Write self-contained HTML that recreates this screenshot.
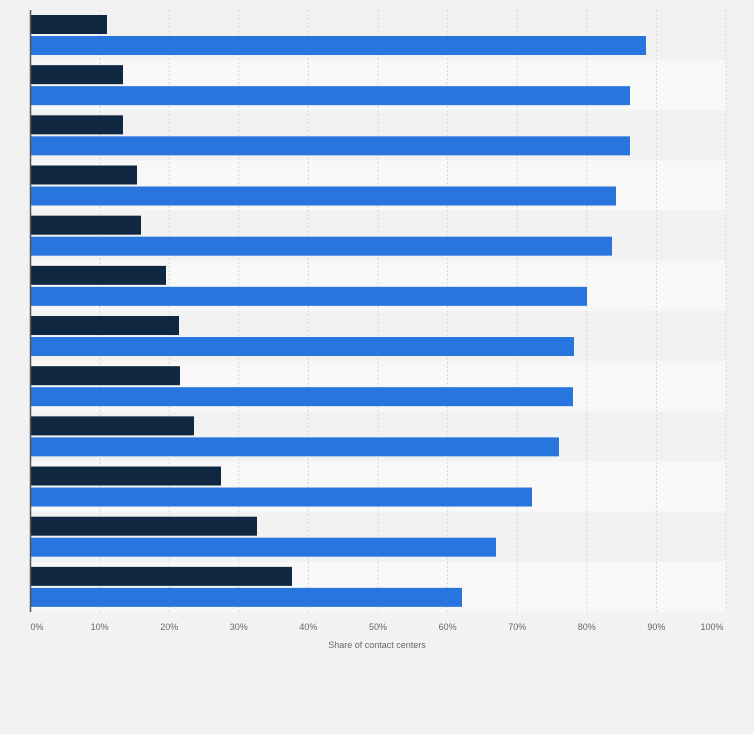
<!DOCTYPE html>
<html><head><style>
body{margin:0;background:#f2f2f2;font-family:"Liberation Sans",sans-serif}
</style></head><body>
<svg width="754" height="729" xmlns="http://www.w3.org/2000/svg">
<rect width="754" height="729" fill="#f2f2f2"/>
<g id="rows"></g>
<g id="grid" stroke="#d8d8d8" stroke-dasharray="2,2" stroke-width="1"></g>
<g id="bars"></g>
<line x1="30.5" y1="10" x2="30.5" y2="612" stroke="#555" stroke-width="1.5"/>
<g id="ticks" font-size="9" fill="#666" text-anchor="middle"></g>
<text x="377" y="648" font-size="9" fill="#666" text-anchor="middle">Share of contact centers</text>
</svg>
<script>
var ns="http://www.w3.org/2000/svg";
function el(p,t,a){var e=document.createElementNS(ns,t);for(var k in a)e.setAttribute(k,a[k]);document.getElementById(p).appendChild(e);return e;}
var dark=[107,123,123,137,141,166,179,180,194,221,257,292];
var blue=[646,630,630,616,612,587,574,573,559,532,496,462];
var rh=50.17;
for(var i=0;i<12;i++){
 var y=10+i*rh;
 el("rows","rect",{x:30,y:y,width:696,height:rh,fill:i%2?"#f8f8f8":"#f2f2f2"});
 el("bars","rect",{x:31,y:y+5,width:dark[i]-31,height:19,fill:"#0f2740"});
 el("bars","rect",{x:31,y:y+26,width:blue[i]-31,height:19,fill:"#2876dd"});
}
for(var j=1;j<=10;j++){var x=30+j*69.6;el("grid","line",{x1:x,y1:10,x2:x,y2:612});}
for(var j=0;j<=10;j++){var x=30+j*69.6;var t=el("ticks","text",{x:j==0?37:(j==10?712:x),y:630});t.textContent=(j*10)+"%";}
</script>
</body></html>
